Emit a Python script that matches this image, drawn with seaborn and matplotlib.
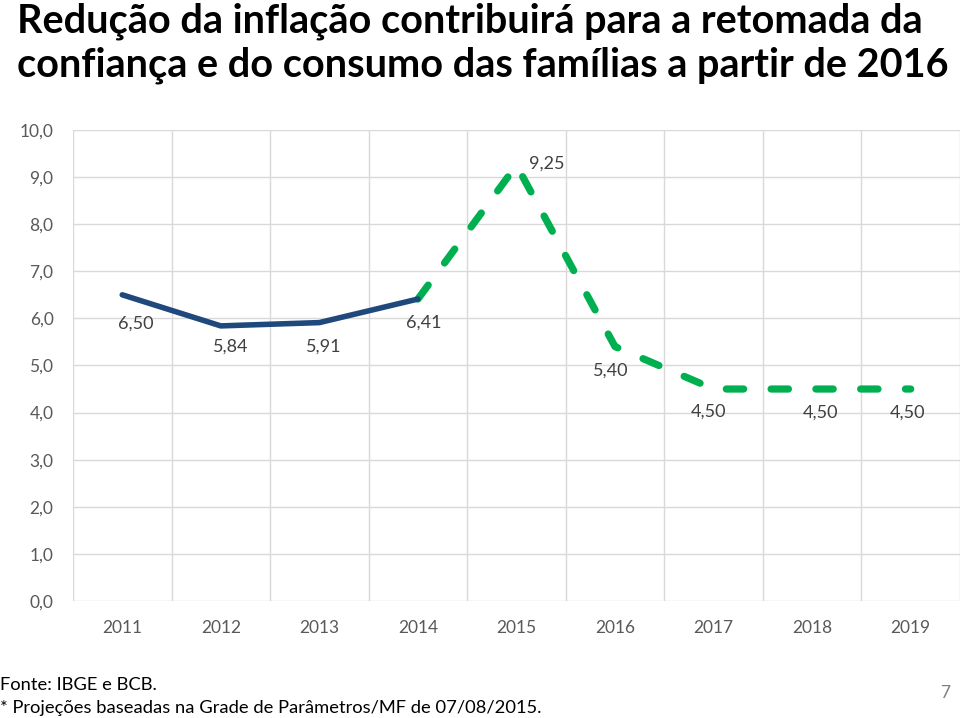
import matplotlib.pyplot as plt
import seaborn as sns
import pandas as pd
from matplotlib.ticker import FixedLocator, FuncFormatter

# --- Data ---
hist_years = [2011, 2012, 2013, 2014]
hist_values = [6.50, 5.84, 5.91, 6.41]
proj_years = [2014, 2015, 2016, 2017, 2018, 2019]
proj_values = [6.41, 9.25, 5.40, 4.50, 4.50, 4.50]

title = "Redução da inflação contribuirá para a retomada da\nconfiança e do consumo das famílias a partir de 2016"
source_note = "Fonte: IBGE e BCB."
proj_note = "* Projeções baseadas na Grade de Parâmetros/MF de 07/08/2015."
page_number = "7"

sns.set_theme(style="white")
plt.rcParams['font.family'] = ['Lato', 'DejaVu Sans']

hist_df = pd.DataFrame({'ano': hist_years, 'ipca': hist_values})
proj_df = pd.DataFrame({'ano': proj_years, 'ipca': proj_values})

fig = plt.figure(figsize=(9.6, 7.18), dpi=100)
ax = fig.add_axes([0.076, 0.163, 0.924, 0.656])

sns.lineplot(data=proj_df, x='ano', y='ipca', ax=ax, color='#00B050', linewidth=5.2,
             linestyle=(0, (2.4, 3.8)), dash_capstyle='round', solid_capstyle='round')
sns.lineplot(data=hist_df, x='ano', y='ipca', ax=ax, color='#1F497D', linewidth=4.0,
             solid_capstyle='round', solid_joinstyle='round')

ax.set_xlim(2010.5, 2019.5)
ax.set_ylim(0, 10)
ax.set_xticks(hist_years[:-1] + proj_years)
ax.xaxis.set_minor_locator(FixedLocator([y + 0.5 for y in range(2010, 2020)]))
ax.set_yticks(range(0, 11))
ax.yaxis.set_major_formatter(FuncFormatter(lambda v, p: f"{v:.1f}".replace('.', ',')))
ax.grid(False)
ax.grid(which='minor', axis='x', color='#d9d9d9', linewidth=1)
ax.grid(which='major', axis='y', color='#d9d9d9', linewidth=1)
ax.set_axisbelow(True)
for s in ax.spines.values():
    s.set_visible(False)
ax.tick_params(axis='both', which='both', length=0, labelsize=12.5, labelcolor='#595959')
ax.tick_params(axis='x', pad=14)
ax.tick_params(axis='y', pad=14)
ax.set_xlabel('')
ax.set_ylabel('')

# data labels (offsets in points)
offsets = {2011: (10, -21), 2012: (7, -15), 2013: (3, -17), 2014: (4, -17),
           2015: (22, 1), 2016: (-3, -17), 2017: (-4, -16), 2018: (6, -17), 2019: (-2, -17)}
all_years = hist_years[:-1] + proj_years
all_vals = hist_values[:-1] + proj_values
for yr, v in zip(all_years, all_vals):
    dx, dy = offsets[yr]
    ax.annotate(f"{v:.2f}".replace('.', ','), (yr, v), xytext=(dx, dy),
                textcoords='offset points', ha='center', va='center',
                fontsize=13, color='#404040')

fig.text(0.018, 0.996, title, ha='left', va='top', fontsize=28.5, fontweight='bold',
         color='black', linespacing=1.22)
fig.text(0.0, 0.046, source_note, ha='left', va='center', fontsize=13.2, color='black')
fig.text(0.0, 0.014, proj_note, ha='left', va='center', fontsize=13.2, color='black')
fig.text(0.985, 0.035, page_number, ha='center', va='center', fontsize=12.5, color='#808080')

fig.savefig('out.png', dpi=100)
